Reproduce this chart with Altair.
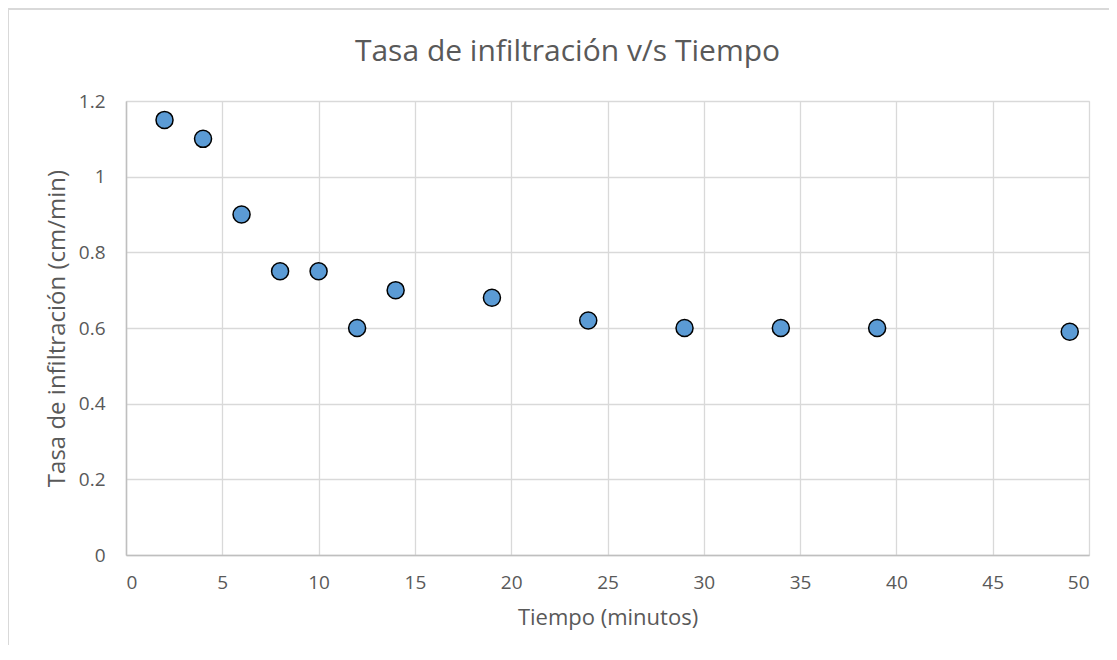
import altair as alt
import pandas as pd

tiempo = [2, 4, 6, 8, 10, 12, 14, 19, 24, 29, 34, 39, 49]
tasa = [1.15, 1.10, 0.90, 0.75, 0.75, 0.60, 0.70, 0.68, 0.62, 0.60, 0.60, 0.60, 0.59]
x_ticks = [0, 5, 10, 15, 20, 25, 30, 35, 40, 45, 50]
y_ticks = [0, 0.2, 0.4, 0.6, 0.8, 1.0, 1.2]

df = pd.DataFrame({"Tiempo": tiempo, "Tasa": tasa})

FONT = "Open Sans"
TXT = "#595959"

points = alt.Chart(df).mark_point(
    filled=True, shape="circle", size=290, fill="#5B9BD5", stroke="#000000", strokeWidth=1.5, opacity=1
).encode(
    x=alt.X("Tiempo:Q", scale=alt.Scale(domain=[0, 50], nice=False),
            axis=alt.Axis(values=x_ticks, title="Tiempo (minutos)", format="d",
                          grid=True, gridColor="#D9D9D9", gridWidth=1.3,
                          domainColor="#BFBFBF", domainWidth=1.5, ticks=False,
                          labelPadding=18, labelFontSize=19, labelColor=TXT, labelFont=FONT,
                          titleFontSize=22, titleColor=TXT, titleFont=FONT, titleFontWeight="normal",
                          titlePadding=15)),
    y=alt.Y("Tasa:Q", scale=alt.Scale(domain=[0, 1.2], nice=False),
            axis=alt.Axis(values=y_ticks, title="Tasa de infiltración (cm/min)", labelExpr="datum.value == 0 ? '0' : datum.value == 1 ? '1' : format(datum.value, '.1f')",
                          grid=True, gridColor="#D9D9D9", gridWidth=1.3,
                          domainColor="#BFBFBF", domainWidth=1.5, ticks=False,
                          labelPadding=21, labelFontSize=19, labelColor=TXT, labelFont=FONT,
                          titleFontSize=24, titleColor=TXT, titleFont=FONT, titleFontWeight="normal",
                          titlePadding=9)),
)

frame_left = alt.Chart(df).mark_rule(color="#D9D9D9", strokeWidth=2).encode(
    x=alt.value(-118), y=alt.value(-92), y2=alt.value(600)
)
frame_top = alt.Chart(df).mark_rule(color="#D9D9D9", strokeWidth=2).encode(
    x=alt.value(-118), x2=alt.value(1000), y=alt.value(-92)
)

chart = alt.layer(frame_left, frame_top, points).properties(
    width=963,
    height=454,
    title=alt.TitleParams("Tasa de infiltración v/s Tiempo", fontSize=30, font=FONT, color=TXT,
                          fontWeight="normal", anchor="middle", dx=-40, offset=-59),
    autosize=alt.AutoSizeParams(type="none"),
    padding={"left": 118, "top": 93, "right": 20, "bottom": 90},
).configure_view(
    stroke="#D9D9D9", strokeWidth=1.3
).configure(background="white")

chart.save("out.html", embed_options={"renderer": "svg", "actions": False})
